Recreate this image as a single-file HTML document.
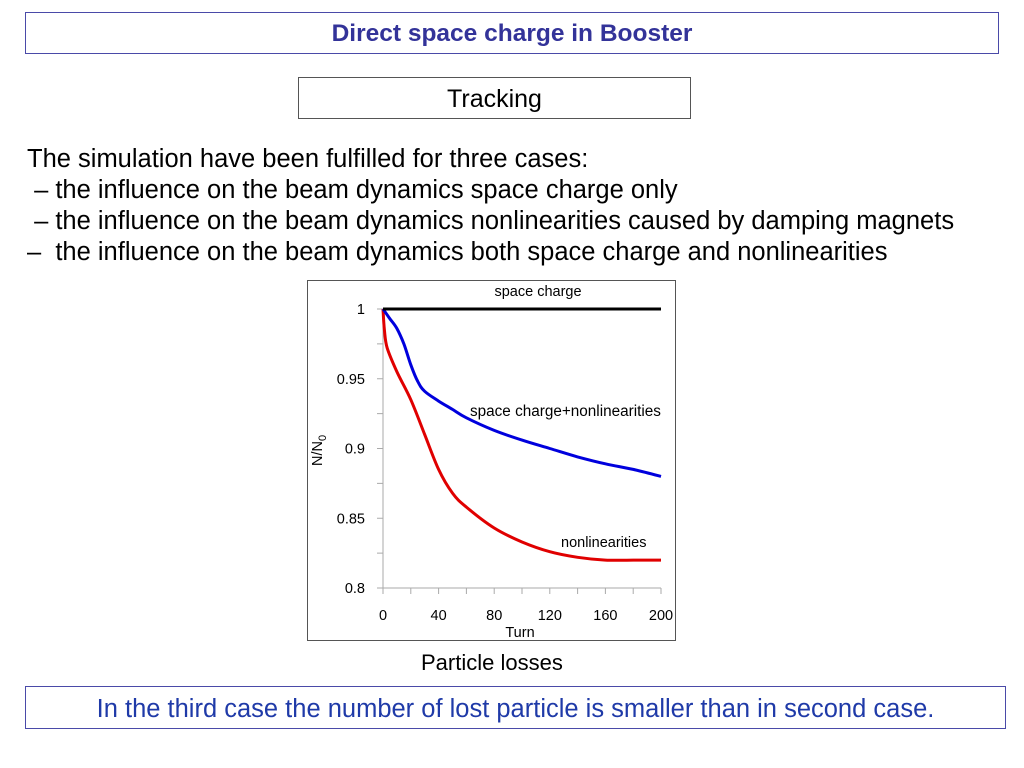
<!DOCTYPE html>
<html><head><meta charset="utf-8"><style>
body{margin:0;width:1024px;height:768px;background:#fff;position:relative;font-family:"Liberation Sans",sans-serif;overflow:hidden}
.box{position:absolute;box-sizing:border-box;text-align:center}
#title{left:25px;top:12px;width:974px;height:42px;border:1px solid #4a4aa8;color:#333399;font-weight:bold;font-size:24.5px;line-height:42px}
#track{left:298px;top:77px;width:393px;height:42px;border:1px solid #555;font-size:25px;line-height:42px}
#body{position:absolute;left:27px;top:144px;font-size:25.5px;line-height:31px;color:#000}
#cap{position:absolute;left:421px;top:650px;font-size:22px}
#concl{left:25px;top:686px;width:981px;height:43px;border:1px solid #4a4aa8;color:#1f3aa8;font-size:25.5px;line-height:45px}
svg{position:absolute;left:0;top:0}
</style></head><body>
<div class="box" id="title">Direct space charge in Booster</div>
<div class="box" id="track">Tracking</div>
<div id="body">The simulation have been fulfilled for three cases:<br>&nbsp;– the influence on the beam dynamics space charge only<br>&nbsp;– the influence on the beam dynamics nonlinearities caused by damping magnets<br>–&nbsp; the influence on the beam dynamics both space charge and nonlinearities</div>
<svg id="chart" width="1024" height="768"></svg>
<div id="cap">Particle losses</div>
<div class="box" id="concl">In the third case the number of lost particle is smaller than in second case.</div>
<script>
const xTicks=[0,40,80,120,160,200];
const yTicks=[0.8,0.85,0.9,0.95,1];
const spaceChargeX=[0,200];
const spaceChargeY=[1,1];
const blueX=[0,5,10,15,20,25,30,40,50,60,80,100,120,140,160,180,200];
const blueY=[1,0.993,0.986,0.975,0.96,0.948,0.941,0.934,0.928,0.922,0.913,0.906,0.9,0.894,0.889,0.885,0.88];
const redX=[0,1,3,10,20,30,40,50,60,80,100,120,140,160,180,200];
const redY=[1,0.985,0.972,0.955,0.935,0.91,0.885,0.868,0.858,0.843,0.833,0.826,0.822,0.82,0.82,0.82];
const NS='http://www.w3.org/2000/svg';
const svg=document.getElementById('chart');
const X=v=>383+(v-0)/200*278;
const Y=v=>588-(v-0.8)/0.2*279;
function mk(t,a,txt){const e=document.createElementNS(NS,t);for(const k in a)e.setAttribute(k,a[k]);if(txt!==undefined)e.textContent=txt;svg.appendChild(e);return e;}
let e=mk('rect',{x:307.5,y:280.5,width:368,height:360,fill:'none',stroke:'#555'});


e=mk('line',{x1:383,y1:Y(1),x2:383,y2:Y(0.8),stroke:'#aaa'});


e=mk('line',{x1:383,y1:Y(0.8),x2:661,y2:Y(0.8),stroke:'#aaa'});


for(let v=0.8;v<=1.0001;v+=0.025){e=mk('line',{x1:377,y1:Y(v),x2:383,y2:Y(v),stroke:'#aaa'});

}
for(let v=0;v<=200;v+=20){e=mk('line',{x1:X(v),y1:Y(0.8),x2:X(v),y2:Y(0.8)+6,stroke:'#aaa'});

}
yTicks.forEach(v=>{e=mk('text',{x:365,y:Y(v)+5,'text-anchor':'end','font-size':14.5},String(v));

});
xTicks.forEach(v=>{e=mk('text',{x:X(v),y:620,'text-anchor':'middle','font-size':14.5},String(v));

});
e=mk('text',{x:520,y:637,'text-anchor':'middle','font-size':14.5},'Turn');


e=mk('text',{x:0,y:0,'font-size':14.5,transform:'translate(322,466) rotate(-90)'});


e.innerHTML='N/N<tspan font-size="11" dy="4">0</tspan>';
function line(xs,ys,c,n){const P=xs.map((x,i)=>[X(x),Y(ys[i])]);
let d='M'+P[0][0].toFixed(1)+','+P[0][1].toFixed(1);
for(let i=0;i<P.length-1;i++){const p0=P[Math.max(i-1,0)],p1=P[i],p2=P[i+1],p3=P[Math.min(i+2,P.length-1)];
const c1=[p1[0]+(p2[0]-p0[0])/6,p1[1]+(p2[1]-p0[1])/6],c2=[p2[0]-(p3[0]-p1[0])/6,p2[1]-(p3[1]-p1[1])/6];
d+='C'+c1.map(v=>v.toFixed(1)).join(',')+' '+c2.map(v=>v.toFixed(1)).join(',')+' '+p2[0].toFixed(1)+','+p2[1].toFixed(1);}
const p=mk('path',{d:d,fill:'none',stroke:c,'stroke-width':3,'stroke-linejoin':'round'});

}
line(redX,redY,'#e00000','nonlinearities-line');
line(blueX,blueY,'#0000dd','space-charge-nonlinearities-line');
line(spaceChargeX,spaceChargeY,'#000','space-charge-line');
e=mk('text',{x:538,y:296,'text-anchor':'middle','font-size':14.5},'space charge');


e=mk('text',{x:470,y:416,'font-size':15.3},'space charge+nonlinearities');


e=mk('text',{x:561,y:547,'font-size':14.5},'nonlinearities');


</script>
</body></html>
